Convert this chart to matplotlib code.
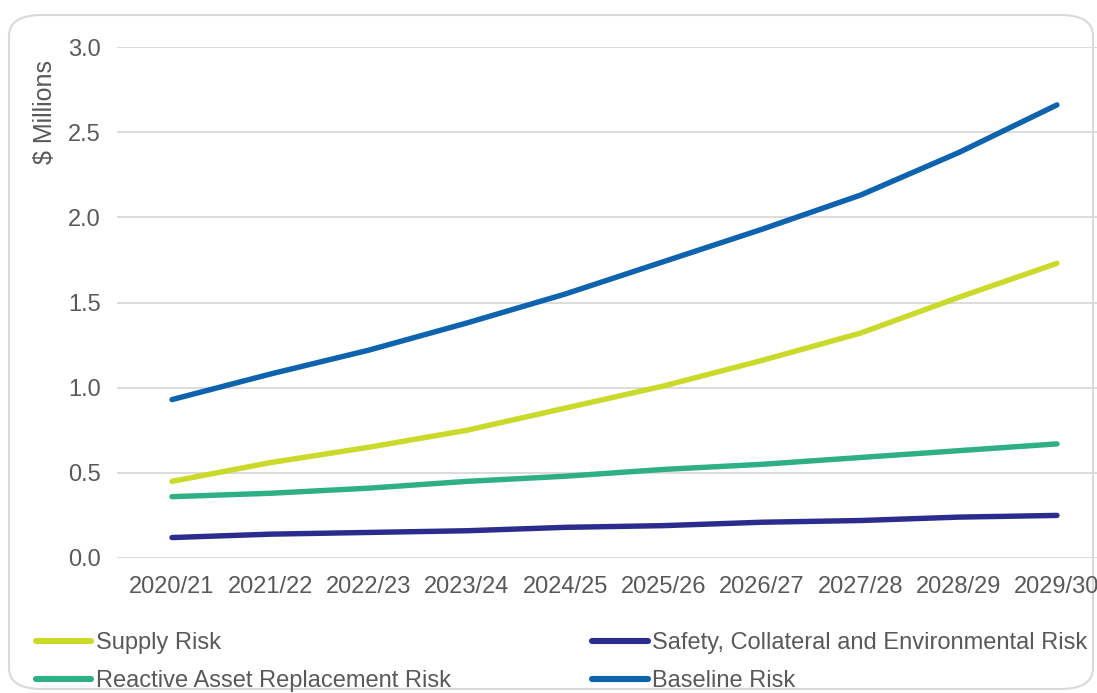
import matplotlib.pyplot as plt
from matplotlib.patches import FancyBboxPatch

YEARS = ["2020/21", "2021/22", "2022/23", "2023/24", "2024/25",
         "2025/26", "2026/27", "2027/28", "2028/29", "2029/30"]

SUPPLY = [0.45, 0.56, 0.65, 0.75, 0.88, 1.01, 1.16, 1.32, 1.53, 1.73]
REACTIVE = [0.36, 0.38, 0.41, 0.45, 0.48, 0.52, 0.55, 0.59, 0.63, 0.67]
SAFETY = [0.12, 0.14, 0.15, 0.16, 0.18, 0.19, 0.21, 0.22, 0.24, 0.25]
BASELINE = [0.93, 1.08, 1.22, 1.38, 1.55, 1.74, 1.93, 2.13, 2.38, 2.66]

SERIES = [
    ("Supply Risk", SUPPLY, "#C9DA2A"),
    ("Reactive Asset Replacement Risk", REACTIVE, "#2FAF86"),
    ("Safety, Collateral and Environmental Risk", SAFETY, "#2B2D8E"),
    ("Baseline Risk", BASELINE, "#0E63AF"),
]

TEXT_COLOR = "#595959"
GRID_COLOR = "#D9D9D9"
W, H = 1097, 693

plt.rcParams["font.family"] = ["Liberation Sans", "DejaVu Sans"]

fig = plt.figure(figsize=(W / 100, H / 100), dpi=100)

# rounded chart-area frame, kept behind the axes
frame = FancyBboxPatch((9 / W, 4 / H), 1084 / W, 674 / H,
                       boxstyle="round,pad=0,rounding_size=0.03",
                       transform=fig.transFigure, facecolor="none",
                       edgecolor=GRID_COLOR, linewidth=1.5, zorder=-1)
fig.patches.append(frame)

left, right, top, bottom = 117, 1110, 47, 558
ax = fig.add_axes([left / W, 1 - bottom / H, (right - left) / W, (bottom - top) / H])
ax.set_facecolor("none")

x = list(range(len(YEARS)))
handles = []
for label, values, color in SERIES:
    line, = ax.plot(x, values, color=color, lw=3.9, solid_capstyle="round",
                    label=label, zorder=3)
    handles.append(line)

ax.set_xlim((left - 172) / 98.33, (right - 172) / 98.33)
ax.set_ylim(0, 3.0)
ax.set_yticks([0, 0.5, 1.0, 1.5, 2.0, 2.5, 3.0])
ax.set_yticklabels(["0.0", "0.5", "1.0", "1.5", "2.0", "2.5", "3.0"])
ax.set_xticks(x)
ax.set_xticklabels(YEARS)
ax.tick_params(axis="both", length=0, labelsize=17, labelcolor=TEXT_COLOR)
ax.tick_params(axis="y", pad=11.5)
ax.tick_params(axis="x", pad=13)
ax.grid(axis="y", color=GRID_COLOR, lw=1.3)
ax.set_axisbelow(True)
for spine in ax.spines.values():
    spine.set_visible(False)

fig.text(45 / W, 1 - 112 / H, "$ Millions", rotation=90, ha="center",
         va="center", fontsize=18, color=TEXT_COLOR)

leg = fig.legend(handles=handles, ncol=2, loc="upper left",
                 bbox_to_anchor=(36 / W, 1 - 632 / H), frameon=False,
                 fontsize=17, labelcolor=TEXT_COLOR, handlelength=2.35,
                 handletextpad=0.17, columnspacing=6.0, labelspacing=0.68,
                 borderpad=0, borderaxespad=0)
for h in leg.legend_handles:
    h.set_linewidth(4.4)

fig.savefig("out.png", dpi=100)
